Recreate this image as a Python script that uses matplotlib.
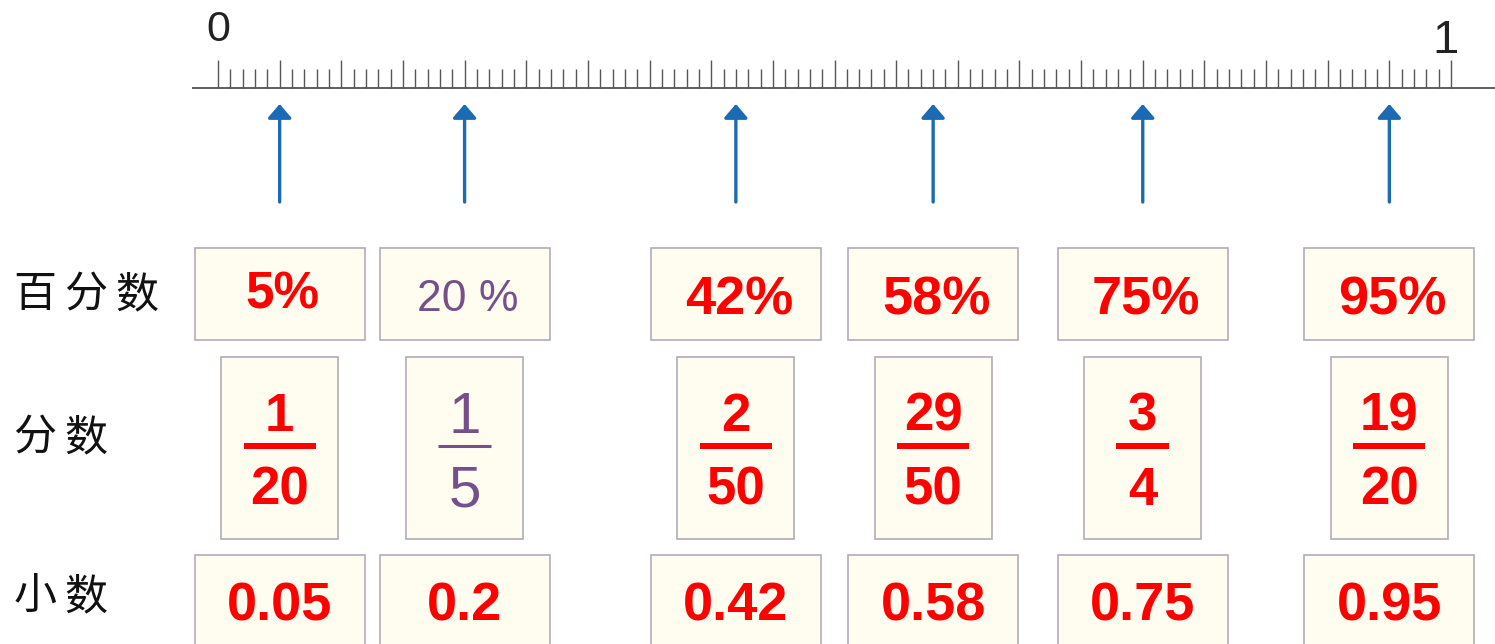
import matplotlib.pyplot as plt
from matplotlib.patches import Rectangle
import numpy as np

plt.rcParams['font.family'] = ['Liberation Sans', 'Noto Sans CJK SC', 'DejaVu Sans']

# data
values = [0.05, 0.20, 0.42, 0.58, 0.75, 0.95]
percent_labels = ['5%', '20 %', '42%', '58%', '75%', '95%']
numerators = [1, 1, 2, 29, 3, 19]
denominators = [20, 5, 50, 50, 4, 20]
decimal_labels = ['0.05', '0.2', '0.42', '0.58', '0.75', '0.95']
row_labels = ['百分数', '分数', '小数']
end_labels = ['0', '1']

# style
given = [False, True, False, False, False, False]   # the worked example is drawn in purple
RED = '#ff0000'
PURPLE = '#76508a'
BLUE = '#1b6ab4'
BOX_FACE = '#fffdf0'
BOX_EDGE = '#b4abb9'

# layout: x is in number-line units, y is in pixels from the top
X0, UNIT = 218, 1233          # pixel of 0 and pixels per unit


def px(p):
    return (p - X0) / UNIT


fig = plt.figure(figsize=(14.95, 6.44), dpi=100)
ax = fig.add_axes([0, 0, 1, 1])
ax.set_xlim(px(0), px(1495))
ax.set_ylim(644, 0)
ax.axis('off')


def centered_text(x, yc, s, size, **kw):
    # place digits so their visual middle sits on yc
    base = yc + 0.358 * size * 100 / 72
    ax.text(x, base, s, ha='center', va='baseline', fontsize=size, **kw)


# number line
ax.plot([px(192), px(1495)], [88, 88], color='#444444', lw=1.2, solid_capstyle='butt')
ticks = np.arange(0, 101) / 100
major = (np.arange(0, 101) % 5) == 0
ax.vlines(ticks[major], 60, 88, color='#555555', lw=1.0)
ax.vlines(ticks[~major], 69, 88, color='#555555', lw=1.0)
centered_text(0, 26, end_labels[0], 31, color='#222222')
centered_text(1 - 5 / UNIT, 36, end_labels[1], 34, color='#222222')

# arrows
for v in values:
    ax.annotate('', xy=(v, 104), xytext=(v, 202),
                arrowprops=dict(arrowstyle='-|>,head_length=0.7,head_width=0.6',
                                mutation_scale=12, color=BLUE, lw=2.4,
                                shrinkA=0, shrinkB=0))

# row labels
for label, yc in zip(row_labels, [295, 438, 597]):
    for i, ch in enumerate(label):
        ax.text(px(35 + 51 * i), yc, ch, ha='center', va='center', fontsize=31,
                color='#111111', family=['Noto Sans CJK SC'])

wide = 170 / UNIT
narrow = 117 / UNIT

for i, v in enumerate(values):
    col = PURPLE if given[i] else RED
    wt = 'normal' if given[i] else 'bold'

    # percent row
    ax.add_patch(Rectangle((v - wide / 2, 248), wide, 92, facecolor=BOX_FACE,
                           edgecolor=BOX_EDGE, lw=1.2))
    size = 32 if given[i] else (37 if i == 0 else 39)
    yc = 290 if i == 0 else 295
    centered_text(v + 3 / UNIT, yc, percent_labels[i], size, color=col, fontweight=wt)

    # fraction row
    ax.add_patch(Rectangle((v - narrow / 2, 357), narrow, 182, facecolor=BOX_FACE,
                           edgecolor=BOX_EDGE, lw=1.2))
    fsize = 42 if given[i] else 38
    digits = max(len(str(numerators[i])), len(str(denominators[i])))
    half = (17 + 9.5 * digits) / UNIT
    centered_text(v, 412, str(numerators[i]), fsize, color=col, fontweight=wt)
    ax.plot([v - half, v + half], [446, 446], color=col,
            lw=2.2 if given[i] else 4.3, solid_capstyle='butt')
    centered_text(v, 486, str(denominators[i]), fsize, color=col, fontweight=wt)

    # decimal row
    ax.add_patch(Rectangle((v - wide / 2, 555), wide, 100, facecolor=BOX_FACE,
                           edgecolor=BOX_EDGE, lw=1.2))
    centered_text(v, 601, decimal_labels[i], 39, color=RED, fontweight='bold')

fig.savefig('out.png', dpi=100)
